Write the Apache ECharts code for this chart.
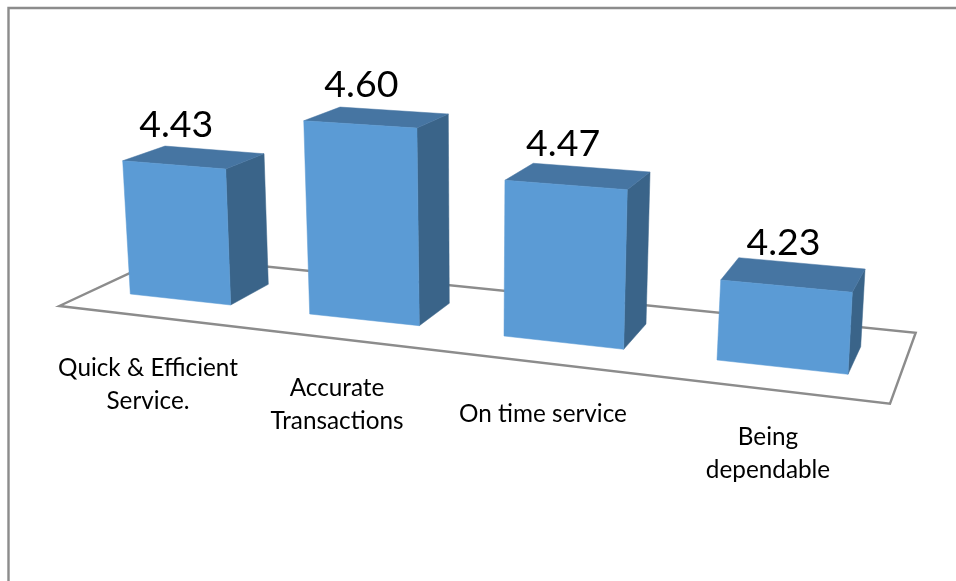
<!DOCTYPE html>
<html>
<head>
<meta charset="utf-8">
<style>html,body{margin:0;padding:0;background:#fff}#c{width:956px;height:581px}</style>
<script src="https://cdn.jsdelivr.net/npm/echarts@6/dist/echarts.min.js"></script>
</head>
<body>
<div id="c"></div>
<script>
const categories = ['Quick & Efficient\nService.', 'Accurate\nTransactions', 'On time service', 'Being\ndependable'];
const values = [4.43, 4.60, 4.47, 4.23];
const valueLabels = ['4.43', '4.60', '4.47', '4.23'];
const axisMin = 4.0, axisMax = 4.8;

// Perspective of the 3D view, one entry per bar, relative to the axis position of the bar's base.
const footFrontLeft  = [[-49.7,-10],[-72.3,10],[-80,32],[-69,56]];
const footFrontRight = [[50.7,1],[37.3,21.7],[39.7,45.3],[62,70.3]];
const footBackRight  = [[88.3,-19.7],[67.3,-0.7],[62,20],[74.7,42.7]];
const riseScale = [[.939,.958,.92],[.976,.998,.956],[1.004,1.029,.98],[1.054,1.08,1.024]];
const riseLean  = [[-.0536,-.035,-.03],[-.03,-.012,-.005],[.006,.023,.026],[.049,.057,.057]];
const topBackOffset = [[42.3,-14.7],[36.3,-13.7],[28.3,-17],[18,-22.3]];
const valueLabelOffset = [[2,-40],[1,-40],[-3,-41],[-3,-43]];
const categoryLabelOffset = [[-32,81],[-45,100.5],[-41,110],[-18,150]];

const frameColor = '#8c8c8c';
const faceFront = '#5b9bd5', faceTop = '#4675a2', faceSide = '#3a6489';

function renderBar(params, api) {
  const i = api.value(0), v = api.value(1);
  const base = api.coord([i, axisMin]);
  const top = api.coord([i, v]);
  const h = base[1] - top[1];
  const rise = (foot, k) => [
    base[0] + foot[0] + riseLean[i][k] * h,
    base[1] + foot[1] - riseScale[i][k] * h
  ];
  const at = foot => [base[0] + foot[0], base[1] + foot[1]];
  const fl = at(footFrontLeft[i]), fr = at(footFrontRight[i]), br = at(footBackRight[i]);
  const tl = rise(footFrontLeft[i], 0), tr = rise(footFrontRight[i], 1), tb = rise(footBackRight[i], 2);
  const tbl = [tl[0] + topBackOffset[i][0], tl[1] + topBackOffset[i][1]];
  const poly = (points, fill) => ({ type: 'polygon', shape: { points }, style: { fill, stroke: fill, lineWidth: 0.5 } });
  const midX = (tl[0] + tr[0]) / 2, midY = (tl[1] + tr[1]) / 2;
  return {
    type: 'group',
    children: [
      poly([tr, tb, br, fr], faceSide),
      poly([tl, tbl, tb, tr], faceTop),
      poly([tl, tr, fr, fl], faceFront),
      { type: 'text', style: {
          x: midX + valueLabelOffset[i][0], y: midY + valueLabelOffset[i][1],
          text: valueLabels[i], fill: '#000', align: 'center', verticalAlign: 'middle',
          font: '37.5px Lato' } },
      { type: 'text', style: {
          x: base[0] + categoryLabelOffset[i][0], y: base[1] + categoryLabelOffset[i][1],
          text: categories[i], fill: '#000', align: 'center', verticalAlign: 'middle',
          font: '24.3px Lato', lineHeight: 33 } }
    ]
  };
}

const chart = echarts.init(document.getElementById('c'), null, { renderer: 'canvas' });
chart.setOption({
  animation: false,
  backgroundColor: '#fff',
  grid: { left: 79, width: 808, top: 40, height: 264 },
  xAxis: { type: 'category', data: categories, show: false },
  yAxis: { type: 'value', min: axisMin, max: axisMax, show: false },
  graphic: [
    { type: 'polyline', z: 0, silent: true,
      shape: { points: [[8.5, 581], [8.5, 8], [956, 8]] },
      style: { stroke: frameColor, lineWidth: 2.4, fill: null } },
    { type: 'polygon', z: 0, silent: true,
      shape: { points: [[59.3, 306], [165.7, 256.3], [915.7, 332.7], [890, 403.7]] },
      style: { stroke: frameColor, lineWidth: 2.4, fill: 'none' } }
  ],
  series: [{
    type: 'custom',
    z: 5,
    renderItem: renderBar,
    encode: { x: 0, y: 1 },
    data: values.map((v, i) => [i, v])
  }]
});
</script>
</body>
</html>
